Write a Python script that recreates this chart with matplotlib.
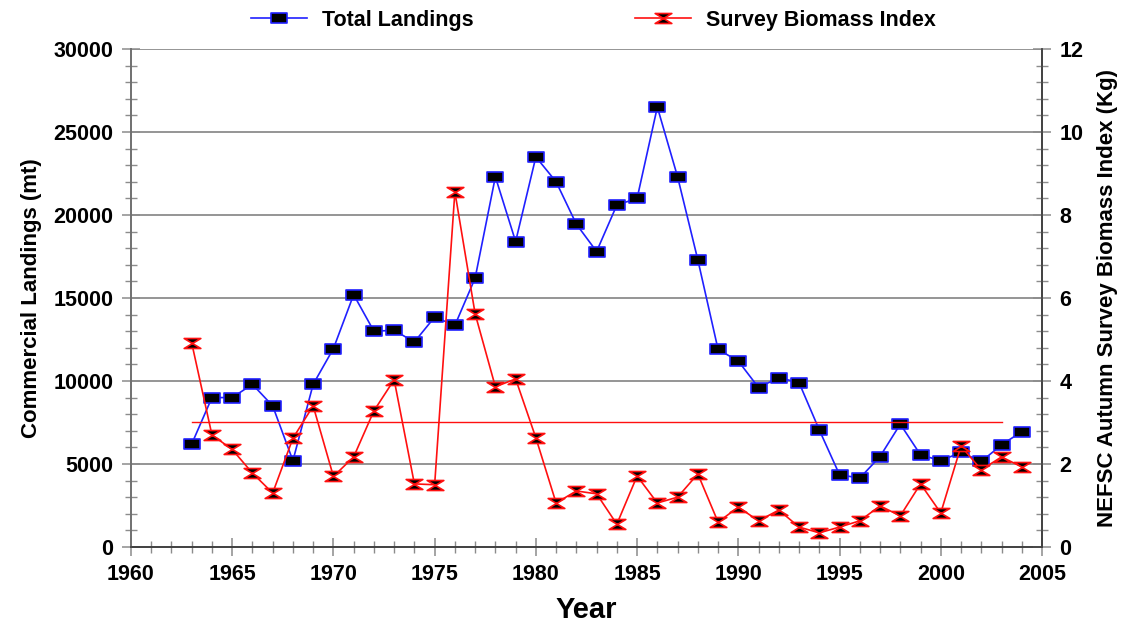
import numpy as np
import matplotlib
matplotlib.use("Agg")
import matplotlib.pyplot as plt
from matplotlib.path import Path
from matplotlib.ticker import MultipleLocator

plt.rcParams['font.family'] = ['Liberation Sans', 'DejaVu Sans']
plt.rcParams['font.weight'] = 'bold'
plt.rcParams['axes.labelweight'] = 'bold'

# data
years = list(range(1963, 2005))
landings = [6200, 9000, 9000, 9800, 8500, 5200, 9800, 11950, 15200, 13000,
            13050, 12350, 13850, 13350, 16200, 22300, 18400, 23500, 22000, 19450,
            17800, 20600, 21000, 26500, 22300, 17300, 11900, 11200, 9600, 10200,
            9900, 7050, 4350, 4150, 5450, 7400, 5550, 5200, 5700, 5150,
            6150, 6950]
biomass = [4.92, 2.70, 2.35, 1.78, 1.30, 2.62, 3.40, 1.70, 2.17, 3.28,
           4.03, 1.52, 1.50, 8.56, 5.62, 3.86, 4.05, 2.63, 1.06, 1.35,
           1.28, 0.55, 1.71, 1.06, 1.20, 1.76, 0.60, 0.96, 0.63, 0.89,
           0.48, 0.34, 0.48, 0.63, 0.99, 0.75, 1.52, 0.82, 2.43, 1.86,
           2.17, 1.93]
ref_years = [1963, 2003]
ref_level = [3.0, 3.0]

# marker shapes
rect = Path([(-1, -0.62), (1, -0.62), (1, 0.62), (-1, 0.62), (-1, -0.62)],
            [Path.MOVETO, Path.LINETO, Path.LINETO, Path.LINETO, Path.CLOSEPOLY])
hourglass = Path([(-1, 0.6), (1, 0.6), (0, 0), (1, -0.6), (-1, -0.6), (0, 0), (-1, 0.6)],
                 [Path.MOVETO] + [Path.LINETO] * 5 + [Path.CLOSEPOLY])

fig = plt.figure(figsize=(11.26, 6.33), dpi=100)
ax = fig.add_axes([0.1163, 0.1359, 0.8091, 0.7867])
ax2 = ax.twinx()

grid_c = '#8c8c8c'
ax.set_xlim(1960, 2005)
ax.set_ylim(0, 30000)
ax2.set_ylim(0, 12)

ax.xaxis.set_major_locator(MultipleLocator(5))
ax.xaxis.set_minor_locator(MultipleLocator(1))
ax.yaxis.set_major_locator(MultipleLocator(5000))
ax.yaxis.set_minor_locator(MultipleLocator(1000))
ax2.yaxis.set_major_locator(MultipleLocator(2))
ax2.yaxis.set_minor_locator(MultipleLocator(0.4))

for y in range(5000, 30001, 5000):
    ax.axhline(y, color=grid_c, lw=1.3, zorder=0)

ax.tick_params(axis='both', which='major', direction='inout', length=13,
               color=grid_c, width=1.1, labelsize=15.5, pad=6)
ax.tick_params(axis='both', which='minor', direction='inout', length=8,
               color=grid_c, width=1.0)
ax2.tick_params(axis='y', which='major', direction='inout', length=13,
                color=grid_c, width=1.1, labelsize=15.5, pad=6)
ax2.tick_params(axis='y', which='minor', direction='inout', length=8,
                color=grid_c, width=1.0)

for a in (ax, ax2):
    a.spines['top'].set_visible(False)
    a.spines['left'].set_color('#707070')
    a.spines['bottom'].set_color('#404040')
    a.spines['right'].set_color('#404040')
    for s in a.spines.values():
        s.set_linewidth(1.2)

ln1, = ax.plot(years, landings, color='#2020ff', lw=1.2, marker=rect,
               markersize=11, markerfacecolor='black', markeredgecolor='#2020ff',
               markeredgewidth=1.2, zorder=3, label='Total Landings')
ln2, = ax2.plot(years, biomass, color='#ff1010', lw=1.2, marker=hourglass,
                markersize=12, markerfacecolor='black', markeredgecolor='#ff1010',
                markeredgewidth=1.2, zorder=3, label='Survey Biomass Index')
ax2.plot(ref_years, ref_level, color='#ff1010', lw=1.0, zorder=2)

ax.set_xlabel('Year', fontsize=21, fontweight='bold', labelpad=8)
ax.set_ylabel('Commercial Landings (mt)', fontsize=16, fontweight='bold', labelpad=8)
ax2.set_ylabel('NEFSC Autumn Survey Biomass Index (Kg)', fontsize=16,
               fontweight='bold', labelpad=10)

fig.legend(handles=[ln1, ln2], loc='center', bbox_to_anchor=(0.527, 0.968),
           ncol=2, frameon=False, fontsize=15.5, handlelength=2.6,
           handletextpad=0.7, columnspacing=7.5, numpoints=1)

fig.savefig('out.png', dpi=100)
